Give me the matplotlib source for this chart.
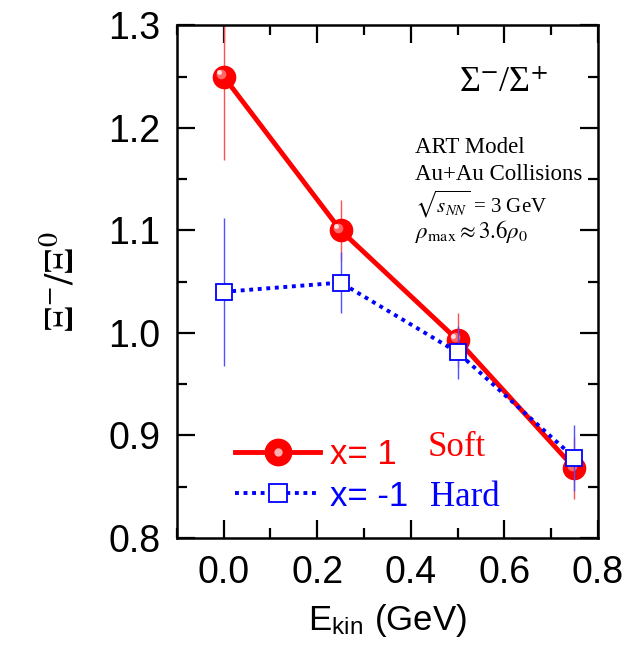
import matplotlib
matplotlib.use('Agg')
import matplotlib.pyplot as plt
from matplotlib.lines import Line2D
from matplotlib.legend_handler import HandlerTuple
from matplotlib.transforms import offset_copy
from matplotlib.ticker import MultipleLocator

plt.rcParams['font.family'] = ['Liberation Sans', 'DejaVu Sans']
plt.rcParams['mathtext.fontset'] = 'stix'

# values
e_kin = [0.0, 0.25, 0.5, 0.75]
soft = [1.250, 1.100, 0.993, 0.868]
soft_err = [0.081, 0.030, 0.026, 0.030]
hard = [1.040, 1.049, 0.981, 0.878]
hard_err = [0.072, 0.030, 0.026, 0.032]

info_lines = ['ART Model', 'Au+Au Collisions',
              r'$\sqrt{s_{NN}}$ = 3 GeV', r'$\rho_{\mathrm{max}} \approx 3.6\rho_0$']
info_y = [0.750, 0.698, 0.634, 0.585]
info_size = [16.5, 16.5, 15, 16.5]

serif = ['Liberation Serif', 'DejaVu Serif']

fig = plt.figure(figsize=(6.34, 6.48), dpi=100)
ax = fig.add_axes([0.279, 0.170, 0.664, 0.791])

red = '#ff0000'
blue = '#0000ff'

# soft (x=1)
ax.errorbar(e_kin, soft, yerr=soft_err, fmt='none', ecolor='#ff5050', elinewidth=1.0, zorder=2)
ax.plot(e_kin, soft, '-', color=red, lw=3.5, zorder=3)
ax.plot(e_kin, soft, 'o', color=red, ms=16, mec=red, zorder=4)
# a bit of shading on the balls
hl1 = offset_copy(ax.transData, fig=fig, x=-1.8, y=1.8, units='points')
hl2 = offset_copy(ax.transData, fig=fig, x=-3.0, y=3.0, units='points')
ax.plot(e_kin, soft, 'o', color='#ff6666', ms=7, mew=0, transform=hl1, zorder=4)
ax.plot(e_kin, soft, 'o', color='#ffe0e0', ms=3.5, mew=0, transform=hl2, zorder=4)

# hard (x=-1)
ax.errorbar(e_kin, hard, yerr=hard_err, fmt='none', ecolor='#5050ff', elinewidth=1.0, zorder=5)
ax.plot(e_kin, hard, color=blue, lw=2.8, ls=(0, (1, 1.2)), zorder=6)
ax.plot(e_kin, hard, 's', ms=11.5, mfc='white', mec=blue, mew=1.3, zorder=7)

ax.set_xlim(-0.1, 0.8)
ax.set_ylim(0.8, 1.3)
ax.xaxis.set_major_locator(MultipleLocator(0.2))
ax.xaxis.set_minor_locator(MultipleLocator(0.1))
ax.yaxis.set_major_locator(MultipleLocator(0.1))
ax.yaxis.set_minor_locator(MultipleLocator(0.05))
ax.xaxis.set_major_formatter(lambda v, p: f'{v:.1f}')
ax.yaxis.set_major_formatter(lambda v, p: f'{v:.1f}')
ax.tick_params(which='both', direction='in', top=True, right=True, width=1.6)
ax.tick_params(which='major', length=13, labelsize=27)
ax.tick_params(which='minor', length=7)
ax.tick_params(axis='x', which='major', pad=12)
ax.tick_params(axis='y', which='major', pad=12)
for s in ax.spines.values():
    s.set_linewidth(1.8)

ax.set_xlabel(r'E$_\mathregular{kin}$ (GeV)', fontsize=25, labelpad=8)
ax.set_ylabel(r'$\Xi^{-}/\Xi^{0}$', fontsize=29, labelpad=20)

ax.text(0.886, 0.889, 'Σ\u207b/Σ\u207a', transform=ax.transAxes,
        ha='right', va='center', fontsize=26, family=serif)
for t, y, fs in zip(info_lines, info_y, info_size):
    ax.text(0.565, y, t, transform=ax.transAxes, ha='left', va='baseline',
            fontsize=fs, family=serif)

h_soft = (Line2D([], [], color=red, lw=3.5, marker='o', ms=19),
          Line2D([], [], ls='none', marker='o', color='#ffb0b0', ms=6, mew=0))
h_hard = Line2D([], [], color=blue, lw=2.8, ls=(0, (1, 1.2)), marker='s', ms=13,
                mfc='white', mec=blue, mew=1.3)
leg = ax.legend([h_soft, h_hard], ['x= 1', 'x= -1'],
                handler_map={tuple: HandlerTuple(ndivide=1, pad=0)},
                loc='center left', bbox_to_anchor=(0.138, 0.122), frameon=False,
                fontsize=25, handlelength=2.45, handletextpad=0.3, labelspacing=0.25,
                borderpad=0, borderaxespad=0)
for txt, c in zip(leg.get_texts(), [red, blue]):
    txt.set_color(c)

ax.text(0.596, 0.177, 'Soft', transform=ax.transAxes, ha='left', va='center',
        fontsize=25, color=red, family=serif)
ax.text(0.601, 0.078, 'Hard', transform=ax.transAxes, ha='left', va='center',
        fontsize=25, color=blue, family=serif)

fig.savefig('out.png', dpi=100)
